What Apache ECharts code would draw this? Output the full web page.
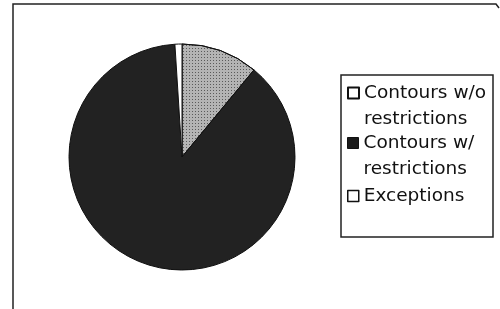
<!DOCTYPE html>
<html><head><meta charset="utf-8">
<script src="https://cdn.jsdelivr.net/npm/echarts@6/dist/echarts.min.js"></script>
<style>html,body{margin:0;padding:0;background:#fff}#c{width:500px;height:309px}</style>
</head><body><div id="c"></div>
<script>
const categories = ['Contours w/o restrictions', 'Contours w/ restrictions', 'Exceptions'];
const legendLines = [['Contours w/o', 'restrictions'], ['Contours w/', 'restrictions'], ['Exceptions']];
const values = [11, 88, 1];

const sliceStyles = [
  { color: '#b4b4b4', borderColor: '#111', borderWidth: 1,
    decal: { symbol: 'rect', symbolSize: 1, dashArrayX: [1, 2], dashArrayY: [1, 2], color: 'rgba(30,30,30,0.6)' } },
  { color: '#222222', borderColor: '#111', borderWidth: 1 },
  { color: '#ffffff', borderColor: '#111', borderWidth: 1 }
];
const iconStyles = [
  { color: '#ffffff', borderColor: '#111', borderWidth: 2, decal: 'none' },
  { color: '#1a1a1a', borderColor: '#111', borderWidth: 1, decal: 'none' },
  { color: '#ffffff', borderColor: '#111', borderWidth: 1.5, decal: 'none' }
];
const legendTops = [54, 104, 183];

const chart = echarts.init(document.getElementById('c'), null, { renderer: 'canvas' });
chart.setOption({
  animation: false,
  backgroundColor: '#fff',
  graphic: [
    { type: 'polyline', shape: { points: [[13, 309], [13, 4], [496, 4], [499, 8]] },
      style: { stroke: '#222', lineWidth: 1.5, fill: null }, silent: true },
    { type: 'rect', shape: { x: 341, y: 75, width: 152, height: 162 },
      style: { stroke: '#222', lineWidth: 1.5, fill: 'none' }, silent: true }
  ],
  legend: categories.map((n, i) => ({
    left: 347, top: legendTops[i], orient: 'vertical', padding: 0,
    itemWidth: 11, itemHeight: 11, itemGap: 0, icon: 'rect', selectedMode: false,
    data: [{ name: n, itemStyle: iconStyles[i] }],
    formatter: name => {
      const lines = legendLines[categories.indexOf(name)];
      return lines.length > 1 ? '\n' + lines.join('\n') : lines[0];
    },
    textStyle: { fontFamily: 'DejaVu Sans', fontSize: 18.5, lineHeight: 26, color: '#111' }
  })),
  series: [{
    type: 'pie', center: [182, 157], radius: 113, startAngle: 90, clockwise: true,
    silent: true, label: { show: false }, labelLine: { show: false },
    emphasis: { disabled: true },
    data: categories.map((n, i) => ({ name: n, value: values[i], itemStyle: sliceStyles[i] }))
  }]
});
</script>
</body></html>
